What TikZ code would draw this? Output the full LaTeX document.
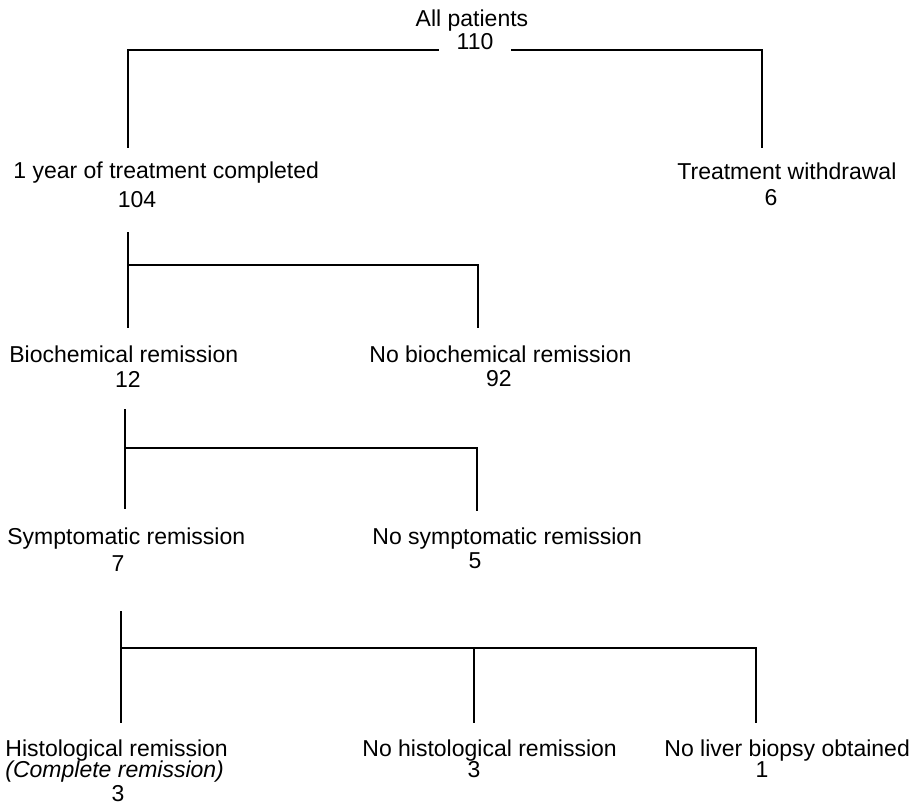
\documentclass[tikz,border=0pt]{standalone}
\usepackage{fontspec}
\setmainfont{Liberation Sans}
\usetikzlibrary{positioning}
\tikzset {
    tree/.style={line width=1.1pt, line cap=rect},
    lbl/.style={inner sep=0pt, font=\fontsize{11.5}{13}\selectfont},
    lft/.style={lbl, anchor=base west},
    num/.style={lbl, anchor=base}
}

\begin{document}
\begin{tikzpicture}[x=0.5pt, y=-0.5pt]
                        \useasboundingbox (0,0) rectangle (923,806);

                        % labels
                        \node[num] (allT) at (472,27) {All patients};
                        \node[num, inner xsep=9pt] (allN) at (475,50) {110};
                        \node[lft] (yearT) at (13,179) {1 year of treatment completed};
                        \node[num] (yearN) at (137,208) {104};
                        \node[lft] (wdrT) at (677,180) {Treatment withdrawal};
                        \node[num] (wdrN) at (771,206) {6};
                        \node[lft] (bioT) at (9,363) {Biochemical remission};
                        \node[num] (bioN) at (128,388) {12};
                        \node[lft] (nbioT) at (369,363) {No biochemical remission};
                        \node[num] (nbioN) at (499,387) {92};
                        \node[lft] (symT) at (7,545) {Symptomatic remission};
                        \node[num] (symN) at (118,572) {7};
                        \node[lft] (nsymT) at (372,545) {No symptomatic remission};
                        \node[num] (nsymN) at (475,569) {5};
                        \node[lft] (hisT) at (5,757) {Histological remission};
                        \node[lft] (hisC) at (5,778) {\itshape (Complete remission)};
                        \node[num] (hisN) at (118,802) {3};
                        \node[lft] (nhisT) at (362,757) {No histological remission};
                        \node[num] (nhisN) at (474,778) {3};
                        \node[lft] (bioptT) at (664,757) {No liver biopsy obtained};
                        \node[num] (bioptN) at (762,778) {1};

                        % branch points
                        \coordinate (yearTop) at (128,147);
                        \coordinate (wdrTop) at (762,147);
                        \coordinate (bioStem) at (128,233);
                        \coordinate (bioFork) at (128,265);
                        \coordinate (bioL) at (128,327);
                        \coordinate (bioR) at (478,327);
                        \coordinate (symStem) at (125,410);
                        \coordinate (symFork) at (125,448);
                        \coordinate (symL) at (125,508);
                        \coordinate (symR) at (477,510);
                        \coordinate (hisStem) at (121,612);
                        \coordinate (hisFork) at (121,648);
                        \coordinate (hisL) at (121,722);
                        \coordinate (hisM) at (474,722);
                        \coordinate (hisR) at (756,722);

                        \draw[tree]
                        (allN.base west) -| (yearTop)
                        (allN.base east) -| (wdrTop)
                        (bioStem) -- (bioL)
                        (bioFork) -| (bioR)
                        (symStem) -- (symL)
                        (symFork) -| (symR)
                        (hisStem) -- (hisL)
                        (hisFork) -| (hisR)
                        (hisM |- hisFork) -- (hisM);
                    \end{tikzpicture}
\end{document}
